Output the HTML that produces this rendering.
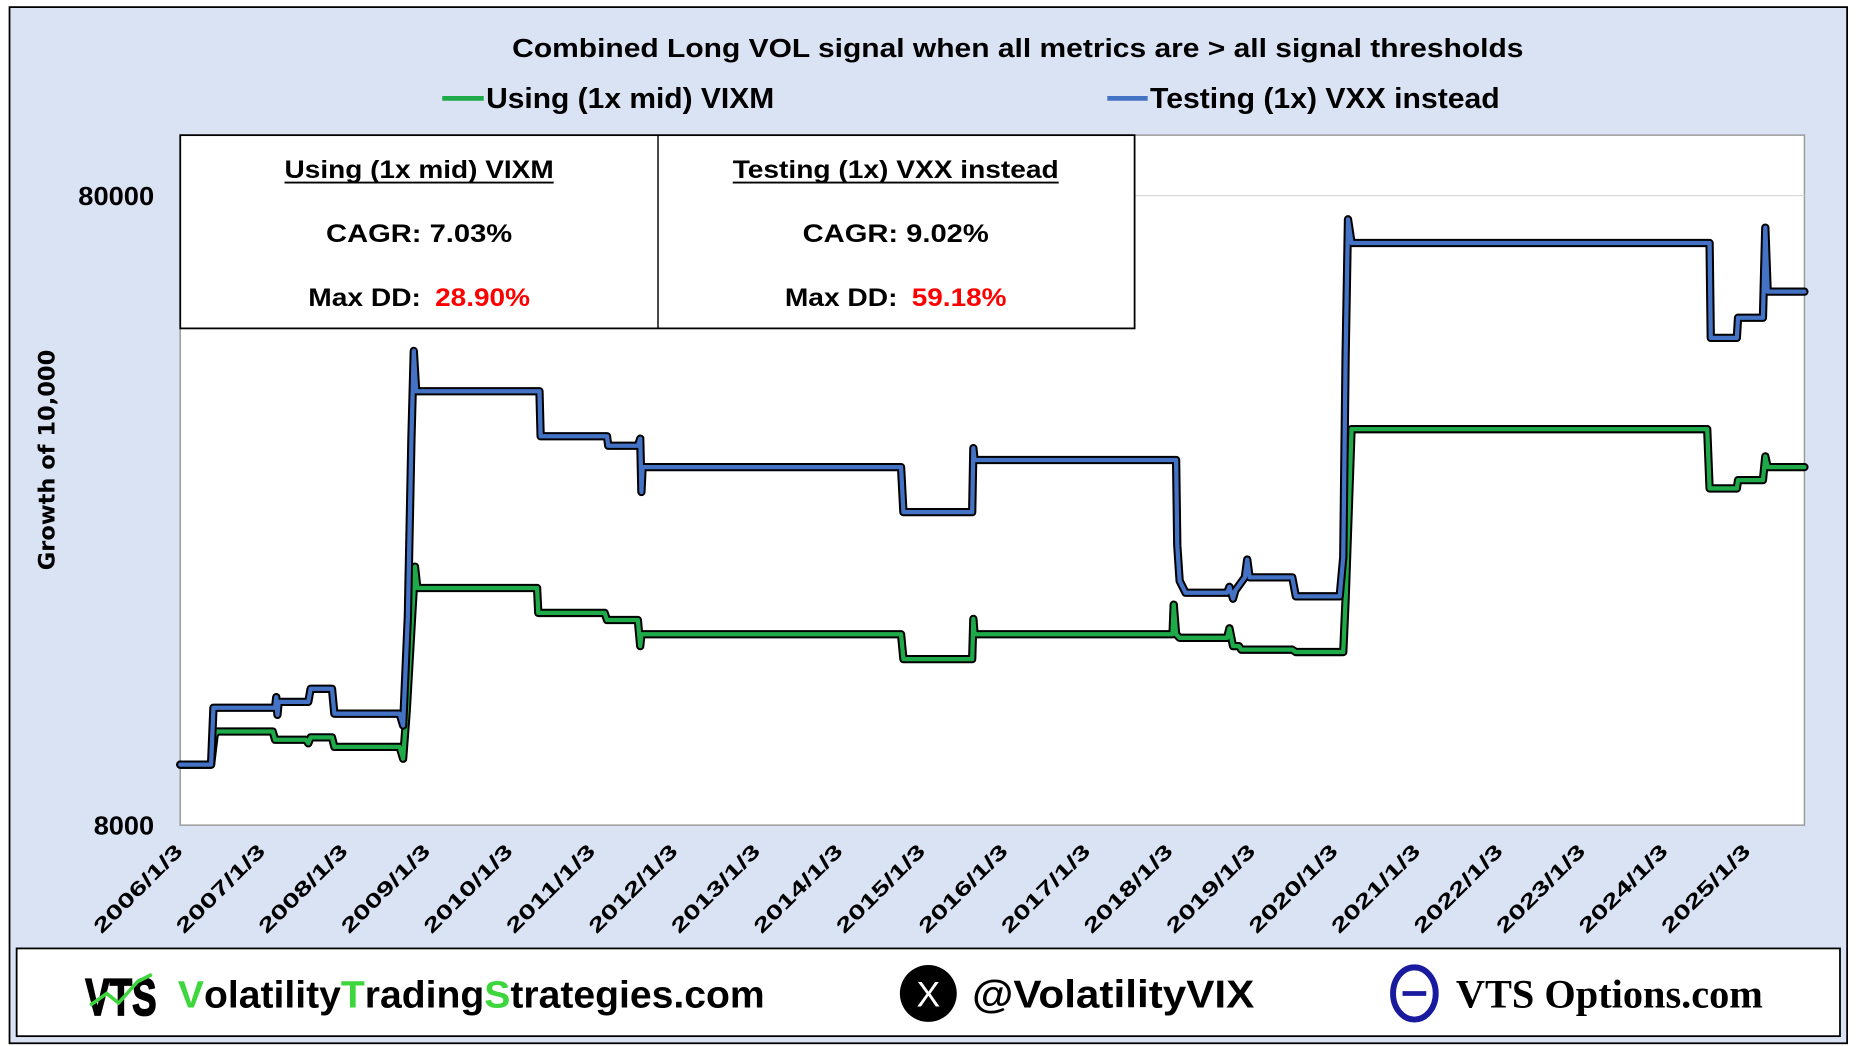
<!DOCTYPE html>
<html><head><meta charset="utf-8"><style>
html,body{margin:0;padding:0;background:#fff;width:1859px;height:1046px;overflow:hidden}
svg{display:block}
</style></head><body>
<svg width="1859" height="1046" viewBox="0 0 1568 882.3" xmlns="http://www.w3.org/2000/svg" font-family="'Liberation Sans', sans-serif" font-weight="bold">
<rect x="0" y="0" width="1568" height="882.3" fill="#fff"/>
<rect x="8" y="6" width="1550" height="874" fill="#dae3f3" stroke="#000" stroke-width="1.5"/>
<text x="432" y="48" font-size="22" textLength="853" lengthAdjust="spacingAndGlyphs">Combined Long VOL signal when all metrics are &gt; all signal thresholds</text>
<line x1="373" y1="83" x2="408" y2="83" stroke="#1faa4a" stroke-width="4"/>
<text x="410" y="91" font-size="24" textLength="243" lengthAdjust="spacingAndGlyphs">Using (1x mid) VIXM</text>
<line x1="934" y1="83" x2="968" y2="83" stroke="#4472c4" stroke-width="4"/>
<text x="970" y="91" font-size="24" textLength="295" lengthAdjust="spacingAndGlyphs">Testing (1x) VXX instead</text>
<rect x="152" y="114" width="1370" height="582" fill="#fff" stroke="#999" stroke-width="1.2"/>
<line x1="152" y1="165" x2="1522" y2="165" stroke="#d9d9d9" stroke-width="1"/>
<text x="130" y="173" font-size="22" text-anchor="end" textLength="64" lengthAdjust="spacingAndGlyphs">80000</text>
<text x="130" y="704" font-size="22" text-anchor="end" textLength="51" lengthAdjust="spacingAndGlyphs">8000</text>
<text transform="translate(46,388) rotate(-90)" font-family="'DejaVu Sans', sans-serif" font-size="19" text-anchor="middle">Growth of 10,000</text>
<g font-size="17">
<text transform="translate(155,719) rotate(-45)" text-anchor="end" textLength="98" lengthAdjust="spacingAndGlyphs">2006/1/3</text>
<text transform="translate(224.6,719) rotate(-45)" text-anchor="end" textLength="98" lengthAdjust="spacingAndGlyphs">2007/1/3</text>
<text transform="translate(294.2,719) rotate(-45)" text-anchor="end" textLength="98" lengthAdjust="spacingAndGlyphs">2008/1/3</text>
<text transform="translate(363.8,719) rotate(-45)" text-anchor="end" textLength="98" lengthAdjust="spacingAndGlyphs">2009/1/3</text>
<text transform="translate(433.4,719) rotate(-45)" text-anchor="end" textLength="98" lengthAdjust="spacingAndGlyphs">2010/1/3</text>
<text transform="translate(503,719) rotate(-45)" text-anchor="end" textLength="98" lengthAdjust="spacingAndGlyphs">2011/1/3</text>
<text transform="translate(572.6,719) rotate(-45)" text-anchor="end" textLength="98" lengthAdjust="spacingAndGlyphs">2012/1/3</text>
<text transform="translate(642.2,719) rotate(-45)" text-anchor="end" textLength="98" lengthAdjust="spacingAndGlyphs">2013/1/3</text>
<text transform="translate(711.8,719) rotate(-45)" text-anchor="end" textLength="98" lengthAdjust="spacingAndGlyphs">2014/1/3</text>
<text transform="translate(781.4,719) rotate(-45)" text-anchor="end" textLength="98" lengthAdjust="spacingAndGlyphs">2015/1/3</text>
<text transform="translate(851,719) rotate(-45)" text-anchor="end" textLength="98" lengthAdjust="spacingAndGlyphs">2016/1/3</text>
<text transform="translate(920.6,719) rotate(-45)" text-anchor="end" textLength="98" lengthAdjust="spacingAndGlyphs">2017/1/3</text>
<text transform="translate(990.2,719) rotate(-45)" text-anchor="end" textLength="98" lengthAdjust="spacingAndGlyphs">2018/1/3</text>
<text transform="translate(1059.8,719) rotate(-45)" text-anchor="end" textLength="98" lengthAdjust="spacingAndGlyphs">2019/1/3</text>
<text transform="translate(1129.4,719) rotate(-45)" text-anchor="end" textLength="98" lengthAdjust="spacingAndGlyphs">2020/1/3</text>
<text transform="translate(1199,719) rotate(-45)" text-anchor="end" textLength="98" lengthAdjust="spacingAndGlyphs">2021/1/3</text>
<text transform="translate(1268.6,719) rotate(-45)" text-anchor="end" textLength="98" lengthAdjust="spacingAndGlyphs">2022/1/3</text>
<text transform="translate(1338.2,719) rotate(-45)" text-anchor="end" textLength="98" lengthAdjust="spacingAndGlyphs">2023/1/3</text>
<text transform="translate(1407.8,719) rotate(-45)" text-anchor="end" textLength="98" lengthAdjust="spacingAndGlyphs">2024/1/3</text>
<text transform="translate(1477.4,719) rotate(-45)" text-anchor="end" textLength="98" lengthAdjust="spacingAndGlyphs">2025/1/3</text>
</g>
<g fill="none" stroke-linejoin="round" stroke-linecap="round">
<polyline stroke="#000" stroke-width="7" points="152,645 178,645 181,620 183,617 230,617 232,624 258,624 260,627 262,622 280,622 282,630 337,630 340,640 343,600 347,530 350,478 352,496 453,496 454,517 510,517 512,523 538,523 540,545 541,535 760,535 762,556 820,556 821,522 822,535 989,535 990,510 992,535 995,538 1035,538 1037,530 1040,545 1045,545 1047,548 1090,548 1093,550 1133,550 1135,505 1140,362 1440,362 1442,412 1465,412 1466,405 1487,405 1489,385 1491,394 1522,394"/>
<polyline stroke="#1faa4a" stroke-width="3.6" points="152,645 178,645 181,620 183,617 230,617 232,624 258,624 260,627 262,622 280,622 282,630 337,630 340,640 343,600 347,530 350,478 352,496 453,496 454,517 510,517 512,523 538,523 540,545 541,535 760,535 762,556 820,556 821,522 822,535 989,535 990,510 992,535 995,538 1035,538 1037,530 1040,545 1045,545 1047,548 1090,548 1093,550 1133,550 1135,505 1140,362 1440,362 1442,412 1465,412 1466,405 1487,405 1489,385 1491,394 1522,394"/>
<polyline stroke="#000" stroke-width="7" points="152,645 178,645 180,597 232,597 233,588 234,603 235,592 260,592 262,581 280,581 282,602 337,602 340,612 344,520 347,370 349,296 351,330 455,330 456,368 512,368 513,376 538,376 540,370 541,415 542,394 760,394 762,432 820,432 821,378 822,388 992,388 993,460 995,490 1000,500 1035,500 1037,495 1040,505 1042,498 1050,487 1052,472 1054,487 1090,487 1093,503 1130,503 1133,470 1135,300 1137,185 1140,205 1442,205 1443,285 1465,285 1466,268 1487,268 1489,192 1491,246 1522,246"/>
<polyline stroke="#4472c4" stroke-width="3.6" points="152,645 178,645 180,597 232,597 233,588 234,603 235,592 260,592 262,581 280,581 282,602 337,602 340,612 344,520 347,370 349,296 351,330 455,330 456,368 512,368 513,376 538,376 540,370 541,415 542,394 760,394 762,432 820,432 821,378 822,388 992,388 993,460 995,490 1000,500 1035,500 1037,495 1040,505 1042,498 1050,487 1052,472 1054,487 1090,487 1093,503 1130,503 1133,470 1135,300 1137,185 1140,205 1442,205 1443,285 1465,285 1466,268 1487,268 1489,192 1491,246 1522,246"/>
</g>
<rect x="152" y="114" width="805" height="163" fill="#fff" stroke="#000" stroke-width="1.5"/>
<line x1="555" y1="114" x2="555" y2="277" stroke="#000" stroke-width="1.2"/>
<g font-size="21">
<text x="240" y="150" textLength="227" lengthAdjust="spacingAndGlyphs">Using (1x mid) VIXM</text>
<line x1="240" y1="154" x2="467" y2="154" stroke="#000" stroke-width="1.5"/>
<text x="275" y="204" textLength="157" lengthAdjust="spacingAndGlyphs">CAGR:  7.03%</text>
<text x="260" y="258" textLength="95" lengthAdjust="spacingAndGlyphs">Max DD:</text>
<text x="367" y="258" fill="#ff0000" textLength="80" lengthAdjust="spacingAndGlyphs">28.90%</text>
<text x="618" y="150" textLength="275" lengthAdjust="spacingAndGlyphs">Testing (1x) VXX instead</text>
<line x1="618" y1="154" x2="893" y2="154" stroke="#000" stroke-width="1.5"/>
<text x="677" y="204" textLength="157" lengthAdjust="spacingAndGlyphs">CAGR:  9.02%</text>
<text x="662" y="258" textLength="95" lengthAdjust="spacingAndGlyphs">Max DD:</text>
<text x="769" y="258" fill="#ff0000" textLength="80" lengthAdjust="spacingAndGlyphs">59.18%</text>
</g>
<rect x="14" y="800" width="1538" height="74" fill="#fff" stroke="#000" stroke-width="1.5"/>
<text x="72" y="856" font-size="44" textLength="60" lengthAdjust="spacingAndGlyphs" fill="#000" stroke="#000" stroke-width="1.5">VTS</text>
<polyline points="76,848 90,838 100,846 116,828 128,822" fill="none" stroke="#3dd63d" stroke-width="3"/>
<text x="150" y="850" font-size="32" textLength="495" lengthAdjust="spacingAndGlyphs"><tspan fill="#3dd63d">V</tspan>olatility<tspan fill="#3dd63d">T</tspan>rading<tspan fill="#3dd63d">S</tspan>trategies.com</text>
<circle cx="783" cy="838" r="24" fill="#000"/>
<text x="783" y="849" font-size="30" fill="#fff" text-anchor="middle" font-weight="normal">X</text>
<text x="820" y="850" font-size="33" textLength="238" lengthAdjust="spacingAndGlyphs">@VolatilityVIX</text>
<ellipse cx="1193" cy="838" rx="18" ry="22" fill="none" stroke="#1a1a9e" stroke-width="5"/>
<line x1="1183" y1="838" x2="1203" y2="838" stroke="#1a1a9e" stroke-width="4"/>
<text x="1228" y="850" font-family="'Liberation Serif', serif" font-size="34" textLength="259" lengthAdjust="spacingAndGlyphs">VTS Options.com</text>
</svg>
</body></html>
